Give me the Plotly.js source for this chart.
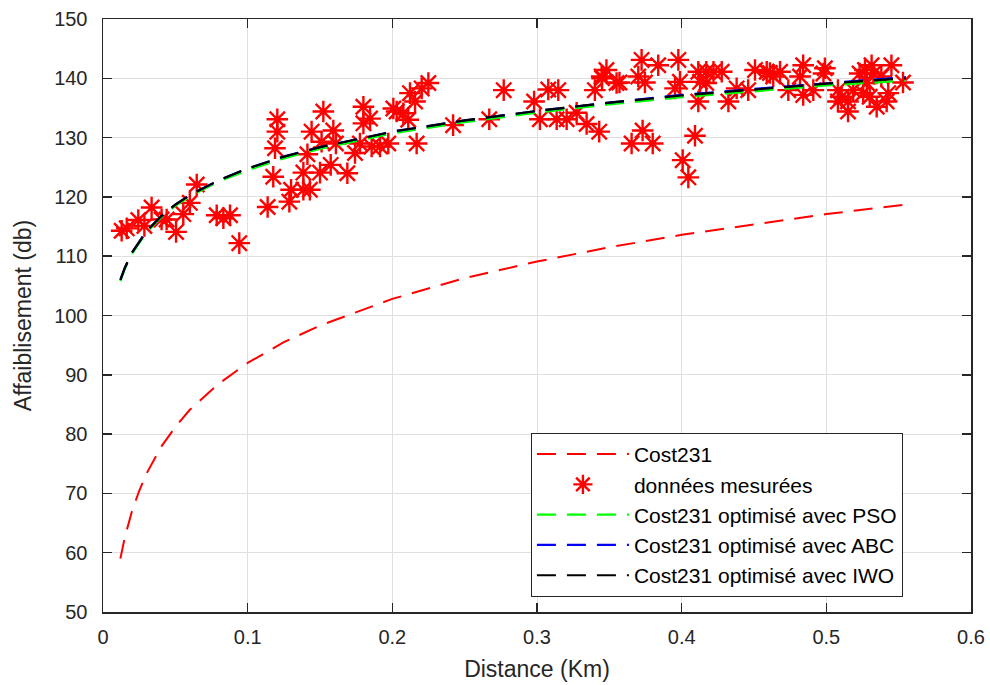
<!DOCTYPE html>
<html>
<head>
<meta charset="utf-8">
<script src="https://cdn.plot.ly/plotly-3.0.1.min.js"></script>
<style>html,body{margin:0;padding:0;background:#fff}#chart{width:990px;height:685px}</style>
</head>
<body>
<div id="chart"></div>
<script>
// Model curves: distance (km) and path loss (dB)
const curveDist = [0.012, 0.015, 0.02, 0.025, 0.03, 0.04, 0.05, 0.06, 0.08, 0.1, 0.125, 0.15, 0.2, 0.25, 0.3, 0.35, 0.4, 0.45, 0.5, 0.555];
const cost231 = [59.0, 62.5, 67.0, 70.4, 73.3, 77.8, 81.2, 84.1, 88.5, 92.0, 95.5, 98.3, 102.8, 106.3, 109.1, 111.5, 113.6, 115.4, 117.1, 118.7];
const costPSO = [105.8, 107.8, 110.4, 112.3, 114.0, 116.5, 118.5, 120.1, 122.6, 124.5, 126.5, 128.1, 130.7, 132.6, 134.2, 135.6, 136.8, 137.8, 138.8, 139.6];
const costABC = [106.0, 108.0, 110.6, 112.5, 114.2, 116.7, 118.7, 120.3, 122.8, 124.8, 126.8, 128.4, 131.0, 132.9, 134.5, 135.9, 137.2, 138.2, 139.2, 140.2];
const costIWO = [106.0, 108.0, 110.6, 112.5, 114.2, 116.7, 118.7, 120.3, 122.8, 124.8, 126.8, 128.4, 131.0, 132.9, 134.5, 135.9, 137.1, 138.1, 139.1, 140.0];

// Measured data
const measDist = [0.0129, 0.0164, 0.0244, 0.0286, 0.0336, 0.0405, 0.044, 0.0505, 0.0555, 0.060, 0.0648, 0.0786, 0.0832, 0.0878, 0.0942,
  0.1138, 0.1177, 0.1189, 0.1205, 0.1205, 0.1288, 0.130, 0.1385, 0.143, 0.1385, 0.1413, 0.1442, 0.150, 0.1511, 0.1523,
  0.1574, 0.1592, 0.161, 0.1689, 0.1742, 0.1776, 0.180, 0.180, 0.1846, 0.1857, 0.1915, 0.1972, 0.2007, 0.203, 0.2076,
  0.211, 0.2122, 0.2157, 0.2168, 0.2203, 0.2249, 0.2420, 0.267, 0.277, 0.298, 0.302, 0.3078, 0.3147, 0.3136, 0.3205,
  0.3274, 0.3343, 0.340, 0.343, 0.3447, 0.348, 0.355, 0.345, 0.357, 0.3723, 0.370, 0.3746, 0.3838, 0.3977, 0.3988,
  0.3954, 0.4115, 0.417, 0.422, 0.4277, 0.4127, 0.417, 0.4115, 0.4323, 0.438, 0.446, 0.4507, 0.4588, 0.4633, 0.3654,
  0.373, 0.380, 0.4007, 0.4046, 0.4092, 0.468, 0.461, 0.4737, 0.484, 0.4818, 0.484, 0.491, 0.499, 0.498, 0.508,
  0.5106, 0.508, 0.515, 0.515, 0.5186, 0.523, 0.5267, 0.5313, 0.5325, 0.528, 0.5255, 0.530, 0.5348, 0.5417, 0.5428,
  0.538, 0.545, 0.553];
const measLoss = [114.3, 114.7, 116.1, 115.1, 118.2, 116.2, 116.2, 114.1, 117.1, 119.0, 122.1, 116.9, 116.4, 116.9, 112.2,
  118.3, 123.4, 128.2, 133.1, 131.0, 119.2, 121.2, 121.2, 121.2, 124.1, 127.2, 131.0, 124.1, 129.3, 134.4,
  125.4, 131.2, 129.0, 124.0, 127.4, 129.0, 132.4, 135.2, 133.2, 128.5, 128.5, 129.0, 134.9, 134.4, 134.1,
  133.0, 137.5, 136.1, 129.0, 138.3, 139.2, 132.1, 133.1, 138.0, 136.1, 133.1, 138.1, 138.0, 133.1, 133.1,
  134.2, 132.3, 138.0, 131.0, 140.3, 141.4, 139.2, 140.0, 139.3, 143.1, 140.3, 139.3, 142.2, 143.1, 139.4,
  138.3, 141.1, 141.1, 141.1, 141.1, 139.4, 139.2, 136.1, 136.1, 138.3, 138.0, 141.4, 141.1, 140.3, 129.0,
  131.2, 129.0, 126.2, 123.3, 130.3, 141.1, 140.9, 138.0, 142.2, 140.3, 137.2, 138.0, 141.7, 140.8, 138.0,
  136.9, 136.1, 134.4, 136.1, 138.0, 140.8, 141.4, 142.2, 140.8, 139.2, 137.5, 136.9, 135.2, 136.1, 137.5,
  140.3, 142.2, 139.3];

const xTicks = [0, 0.1, 0.2, 0.3, 0.4, 0.5, 0.6];
const xTickText = ['0', '0.1', '0.2', '0.3', '0.4', '0.5', '0.6'];
const yTicks = [50, 60, 70, 80, 90, 100, 110, 120, 130, 140, 150];

const dashStyle = '19px,11px';
const traces = [
  {x: curveDist, y: cost231, mode: 'lines', name: 'Cost231', line: {color: '#ff0000', width: 2, dash: dashStyle}},
  {x: measDist, y: measLoss, mode: 'markers', name: 'données mesurées',
   marker: {symbol: 'asterisk-open', size: 18, color: '#ff0000', line: {color: '#ff0000', width: 2.4}}},
  {x: curveDist, y: costPSO, mode: 'lines', name: 'Cost231 optimisé avec PSO', line: {color: '#00ff00', width: 2.2, dash: dashStyle}},
  {x: curveDist, y: costABC, mode: 'lines', name: 'Cost231 optimisé avec ABC', line: {color: '#0000ff', width: 2.2, dash: dashStyle}},
  {x: curveDist, y: costIWO, mode: 'lines', name: 'Cost231 optimisé avec IWO', line: {color: '#000000', width: 2.2, dash: dashStyle}}
];

const fontFam = '"Liberation Sans", Arial, sans-serif';
const layout = {
  width: 990, height: 685,
  margin: {l: 103, r: 19, t: 19, b: 73},
  paper_bgcolor: '#ffffff', plot_bgcolor: '#ffffff',
  font: {family: fontFam, size: 20, color: '#262626'},
  showlegend: true,
  xaxis: {
    range: [0, 0.6], tickvals: xTicks, ticktext: xTickText,
    showgrid: true, gridcolor: '#dfdfdf', gridwidth: 1,
    zeroline: false, showline: true, linecolor: '#262626', linewidth: 1.5,
    mirror: 'ticks', ticks: 'inside', ticklen: 9, tickcolor: '#262626', tickwidth: 1.5,
    tickfont: {family: fontFam, size: 20, color: '#262626'},
    ticklabelstandoff: 6,
    title: {text: 'Distance (Km)', font: {family: fontFam, size: 23, color: '#262626'}, standoff: 14}
  },
  yaxis: {
    range: [50, 150], tickvals: yTicks,
    showgrid: true, gridcolor: '#dfdfdf', gridwidth: 1,
    zeroline: false, showline: true, linecolor: '#262626', linewidth: 1.5,
    mirror: 'ticks', ticks: 'inside', ticklen: 9, tickcolor: '#262626', tickwidth: 1.5,
    tickfont: {family: fontFam, size: 20, color: '#262626'},
    ticklabelstandoff: 10,
    title: {text: 'Affaiblisement (db)', font: {family: fontFam, size: 23, color: '#262626'}, standoff: 16}
  },
  legend: {
    x: 0.493, y: 0.302, xanchor: 'left', yanchor: 'top',
    bgcolor: '#ffffff', bordercolor: '#262626', borderwidth: 1,
    font: {family: fontFam, size: 21, color: '#000000'},
    itemwidth: 92, tracegroupgap: 0
  }
};

Plotly.newPlot('chart', traces, layout, {displayModeBar: false, staticPlot: true});
</script>
</body>
</html>
